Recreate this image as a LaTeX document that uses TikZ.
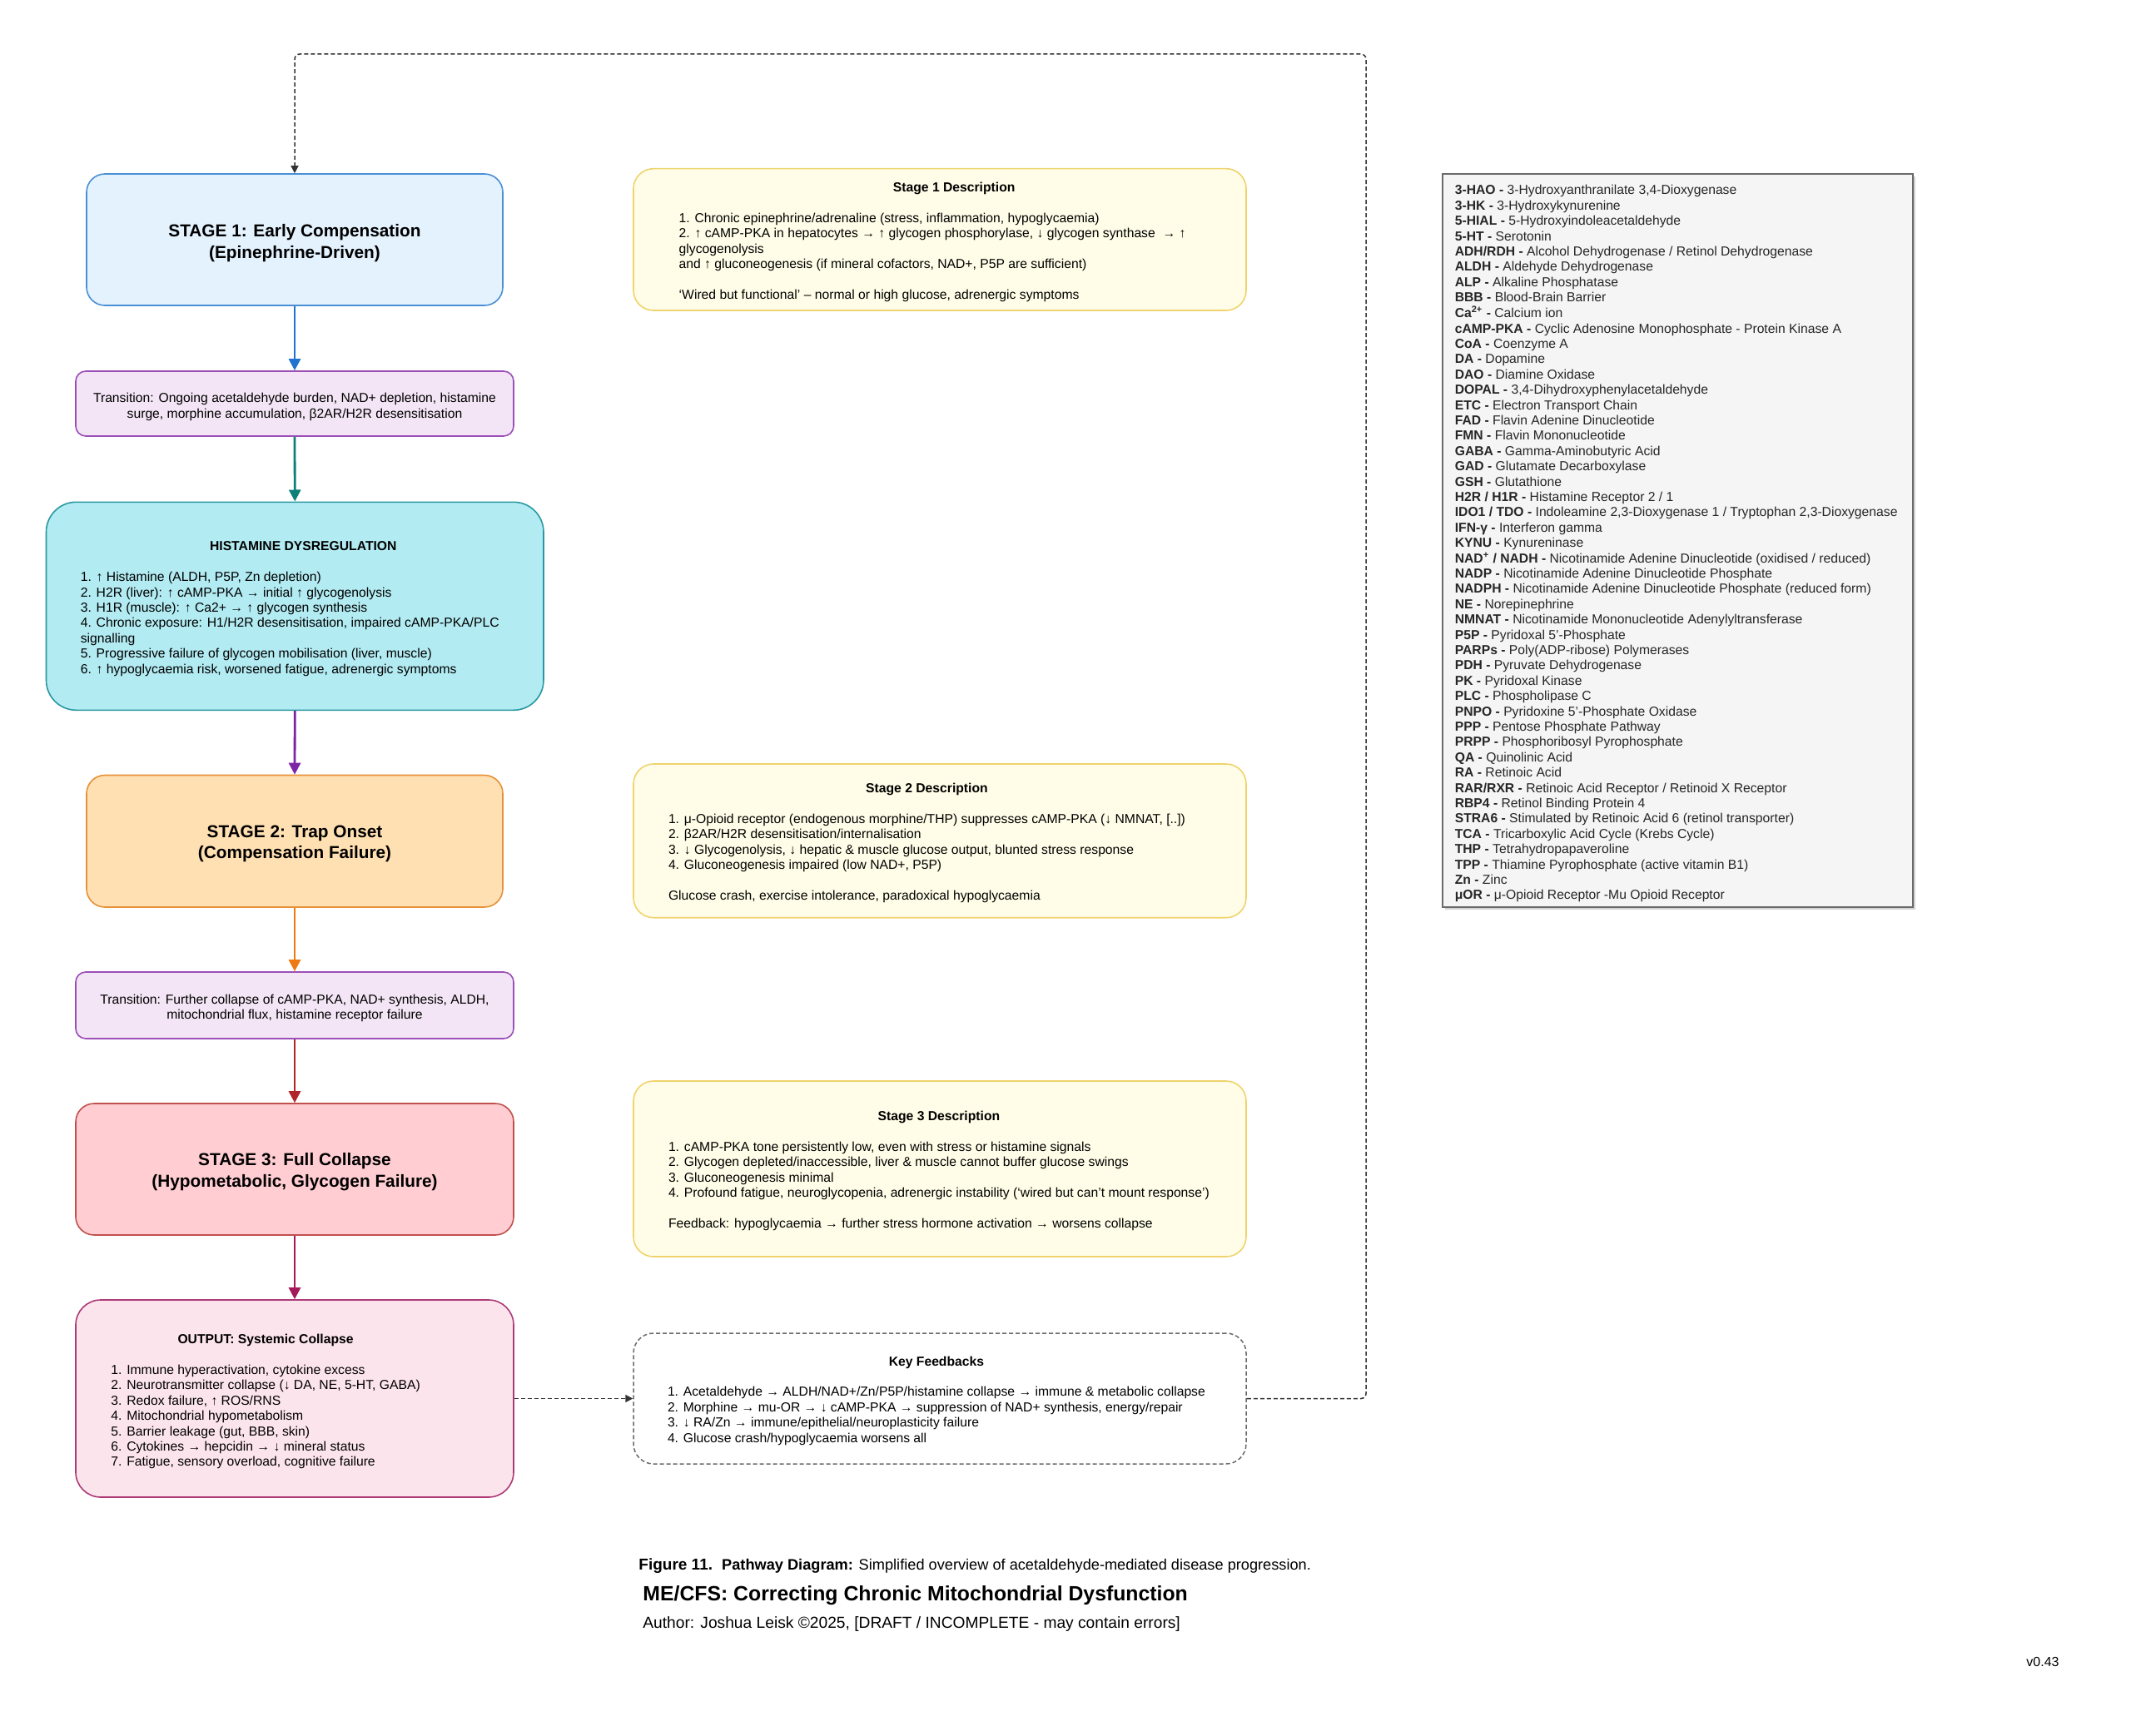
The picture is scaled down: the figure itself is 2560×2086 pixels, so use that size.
\documentclass[tikz,border=0pt]{standalone}
\usepackage{fontspec}
\setmainfont{Liberation Sans}
\usetikzlibrary{arrows.meta,shadows}
\definecolor{sonefill}{HTML}{E3F2FD}
\definecolor{soneline}{HTML}{4A8FD6}
\definecolor{arrblue}{HTML}{1F74CF}
\definecolor{trfill}{HTML}{F3E5F5}
\definecolor{trline}{HTML}{9B4FB8}
\definecolor{histfill}{HTML}{B2EBF2}
\definecolor{histline}{HTML}{2A98A3}
\definecolor{arrteal}{HTML}{0E8079}
\definecolor{arrpurple}{HTML}{7B24A6}
\definecolor{stwofill}{HTML}{FFE0B2}
\definecolor{stwoline}{HTML}{E69138}
\definecolor{arrorange}{HTML}{EF7A12}
\definecolor{arrred}{HTML}{B0262A}
\definecolor{sthreefill}{HTML}{FFCDD2}
\definecolor{sthreeline}{HTML}{C0504D}
\definecolor{arrmagenta}{HTML}{A3195B}
\definecolor{outfill}{HTML}{FCE4EC}
\definecolor{outline}{HTML}{AD3A78}
\definecolor{descfill}{HTML}{FFFDE7}
\definecolor{descline}{HTML}{F0D36C}
\definecolor{glfill}{HTML}{F5F5F5}
\definecolor{glline}{HTML}{6A6A6A}
\definecolor{loopcol}{HTML}{333333}
\newcommand{\bodyfont}{\fontsize{7.85}{9.2}\selectfont}
\begin{document}
\begin{tikzpicture}[x=0.5pt,y=-0.5pt,
  shapebox/.style={line width=0.8pt, inner sep=0pt},
  stagebox/.style={shapebox, rounded corners=11pt},
  transbox/.style={shapebox, rounded corners=6pt, fill=trfill, draw=trline},
  descbox/.style={shapebox, rounded corners=12pt, fill=descfill, draw=descline},
  txt/.style={inner sep=0pt, font=\bodyfont, align=left, yshift=-1.5pt},
  ctxt/.style={inner sep=0pt, font=\bodyfont, align=center, yshift=-1.5pt},
  titletxt/.style={inner sep=0pt, font=\fontsize{10.4}{12.85}\selectfont\bfseries, align=center, yshift=-1.5pt},
  captxt/.style={inner sep=0pt, anchor=west, yshift=-1pt},
  flow/.style={line width=1.4pt, -{Triangle[length=7pt,width=7pt]}},
  loopline/.style={line width=0.75pt, draw=loopcol, dash pattern=on 2.5pt off 1.5pt, rounded corners=3pt, -{Triangle[length=4.5pt,width=4.5pt]}}
]
\useasboundingbox (0,0) rectangle (2560,2086);
\fill[white] (0,0) rectangle (2560,2086);

% ---------- left column boxes ----------
\node[stagebox, fill=sonefill, draw=soneline, minimum width=250pt, minimum height=79pt] (s1) at (354,288) {};
\node[transbox, minimum width=263pt, minimum height=39pt] (t1) at (354,485) {};
\node[shapebox, rounded corners=18pt, fill=histfill, draw=histline, minimum width=298.75pt, minimum height=125pt] (hist) at (354.25,728.3) {};
\node[stagebox, fill=stwofill, draw=stwoline, minimum width=250pt, minimum height=79.25pt] (s2) at (354,1010.75) {};
\node[transbox, minimum width=263pt, minimum height=40pt] (t2) at (354,1208) {};
\node[stagebox, fill=sthreefill, draw=sthreeline, minimum width=263pt, minimum height=79pt] (s3) at (354,1405) {};
\node[shapebox, rounded corners=15pt, fill=outfill, draw=outline, minimum width=263pt, minimum height=118.5pt] (out) at (354,1680.5) {};

% ---------- right column boxes ----------
\node[descbox, minimum width=368pt, minimum height=85.15pt] (d1) at (1129,287.85) {};
\node[descbox, minimum width=368pt, minimum height=92.35pt] (d2) at (1129,1010.35) {};
\node[descbox, minimum width=368pt, minimum height=105.5pt] (d3) at (1129,1404.5) {};
\node[shapebox, rounded corners=12pt, fill=white, draw=glline, line width=0.75pt, dash pattern=on 2.5pt off 1.5pt, minimum width=368pt, minimum height=78.5pt] (kf) at (1129,1680.5) {};

% ---------- glossary ----------
\node[shapebox, fill=glfill, draw=glline, line width=0.9pt, minimum width=282.5pt, minimum height=440.35pt,
  drop shadow={shadow xshift=1.5pt, shadow yshift=-1.5pt, opacity=0.35}] (gl) at (2015.5,649.65) {};

% ---------- texts ----------
\node[titletxt] (s1txt) at (354,289) {STAGE 1: Early Compensation\\(Epinephrine-Driven)};
\node[ctxt] (t1txt) at (354,486) {Transition: Ongoing acetaldehyde burden, NAD+ depletion, histamine\\surge, morphine accumulation, β2AR/H2R desensitisation};
\node[txt, anchor=west] (histtxt) at (96.4,728.7) {\begin{minipage}{267.5pt}\bodyfont\centering\textbf{HISTAMINE DYSREGULATION}\par\vspace{9.2pt}\raggedright
1. ↑ Histamine (ALDH, P5P, Zn depletion)\\
2. H2R (liver): ↑ cAMP-PKA → initial ↑ glycogenolysis\\
3. H1R (muscle): ↑ Ca2+ → ↑ glycogen synthesis\\
4. Chronic exposure: H1/H2R desensitisation, impaired cAMP-PKA/PLC\\
signalling\\
5. Progressive failure of glycogen mobilisation (liver, muscle)\\
6. ↑ hypoglycaemia risk, worsened fatigue, adrenergic symptoms\par\end{minipage}};
\node[titletxt] (s2txt) at (354,1011) {STAGE 2: Trap Onset\\(Compensation Failure)};
\node[ctxt] (t2txt) at (354,1208.5) {Transition: Further collapse of cAMP-PKA, NAD+ synthesis, ALDH,\\mitochondrial flux, histamine receptor failure};
\node[titletxt] (s3txt) at (354,1405) {STAGE 3: Full Collapse\\(Hypometabolic, Glycogen Failure)};
\node[txt, anchor=west] (outtxt) at (133,1681.7) {\begin{tabular}{@{}l@{}}
\multicolumn{1}{@{}c@{}}{\bfseries OUTPUT: Systemic Collapse}\\
\\
1. Immune hyperactivation, cytokine excess\\
2. Neurotransmitter collapse (↓ DA, NE, 5-HT, GABA)\\
3. Redox failure, ↑ ROS/RNS\\
4. Mitochondrial hypometabolism\\
5. Barrier leakage (gut, BBB, skin)\\
6. Cytokines → hepcidin → ↓ mineral status\\
7. Fatigue, sensory overload, cognitive failure
\end{tabular}};

\node[txt, anchor=west] (d1txt) at (815.3,288) {\begin{minipage}{330.5pt}\bodyfont\centering\textbf{Stage 1 Description}\par\vspace{9.2pt}\raggedright
1. Chronic epinephrine/adrenaline (stress, inflammation, hypoglycaemia)\\
2. ↑ cAMP-PKA in hepatocytes → ↑ glycogen phosphorylase, ↓ glycogen synthase ~→ ↑\\
glycogenolysis\\
and ↑ gluconeogenesis (if mineral cofactors, NAD+, P5P are sufficient)\\[9.2pt]
‘Wired but functional’ – normal or high glucose, adrenergic symptoms\par\end{minipage}};
\node[txt, anchor=west] (d2txt) at (802.6,1010.4) {\begin{tabular}{@{}l@{}}
\multicolumn{1}{@{}c@{}}{\bfseries Stage 2 Description}\\
\\
1. μ-Opioid receptor (endogenous morphine/THP) suppresses cAMP-PKA (↓ NMNAT, [..])\\
2. β2AR/H2R desensitisation/internalisation\\
3. ↓ Glycogenolysis, ↓ hepatic \& muscle glucose output, blunted stress response\\
4. Gluconeogenesis impaired (low NAD+, P5P)\\
\\
Glucose crash, exercise intolerance, paradoxical hypoglycaemia
\end{tabular}};
\node[txt, anchor=west] (d3txt) at (802.6,1404.5) {\begin{tabular}{@{}l@{}}
\multicolumn{1}{@{}c@{}}{\bfseries Stage 3 Description}\\
\\
1. cAMP-PKA tone persistently low, even with stress or histamine signals\\
2. Glycogen depleted/inaccessible, liver \& muscle cannot buffer glucose swings\\
3. Gluconeogenesis minimal\\
4. Profound fatigue, neuroglycopenia, adrenergic instability (‘wired but can’t mount response’)\\
\\
Feedback: hypoglycaemia → further stress hormone activation → worsens collapse
\end{tabular}};
\node[txt, anchor=west] (kftxt) at (801.6,1680.5) {\begin{tabular}{@{}l@{}}
\multicolumn{1}{@{}c@{}}{\bfseries Key Feedbacks}\\
\\
1. Acetaldehyde → ALDH/NAD+/Zn/P5P/histamine collapse → immune \& metabolic collapse\\
2. Morphine → mu-OR → ↓ cAMP-PKA → suppression of NAD+ synthesis, energy/repair\\
3. ↓ RA/Zn → immune/epithelial/neuroplasticity failure\\
4. Glucose crash/hypoglycaemia worsens all
\end{tabular}};

\node[txt, anchor=west, text=black!85, yshift=-0.5pt] (gltxt) at (1747.4,649.7) {\begin{tabular}{@{}l@{}}
\textbf{3-HAO -} 3-Hydroxyanthranilate 3,4-Dioxygenase\\
\textbf{3-HK -} 3-Hydroxykynurenine\\
\textbf{5-HIAL -} 5-Hydroxyindoleacetaldehyde\\
\textbf{5-HT -} Serotonin\\
\textbf{ADH/RDH -} Alcohol Dehydrogenase / Retinol Dehydrogenase\\
\textbf{ALDH -} Aldehyde Dehydrogenase\\
\textbf{ALP -} Alkaline Phosphatase\\
\textbf{BBB -} Blood-Brain Barrier\\
\textbf{Ca\textsuperscript{2+} -} Calcium ion\\
\textbf{cAMP-PKA -} Cyclic Adenosine Monophosphate - Protein Kinase A\\
\textbf{CoA -} Coenzyme A\\
\textbf{DA -} Dopamine\\
\textbf{DAO -} Diamine Oxidase\\
\textbf{DOPAL -} 3,4-Dihydroxyphenylacetaldehyde\\
\textbf{ETC -} Electron Transport Chain\\
\textbf{FAD -} Flavin Adenine Dinucleotide\\
\textbf{FMN -} Flavin Mononucleotide\\
\textbf{GABA -} Gamma-Aminobutyric Acid\\
\textbf{GAD -} Glutamate Decarboxylase\\
\textbf{GSH -} Glutathione\\
\textbf{H2R / H1R -} Histamine Receptor 2 / 1\\
\textbf{IDO1 / TDO -} Indoleamine 2,3-Dioxygenase 1 / Tryptophan 2,3-Dioxygenase\\
\textbf{IFN-γ -} Interferon gamma\\
\textbf{KYNU -} Kynureninase\\
\textbf{NAD\textsuperscript{+} / NADH -} Nicotinamide Adenine Dinucleotide (oxidised / reduced)\\
\textbf{NADP -} Nicotinamide Adenine Dinucleotide Phosphate\\
\textbf{NADPH -} Nicotinamide Adenine Dinucleotide Phosphate (reduced form)\\
\textbf{NE -} Norepinephrine\\
\textbf{NMNAT -} Nicotinamide Mononucleotide Adenylyltransferase\\
\textbf{P5P -} Pyridoxal 5'-Phosphate\\
\textbf{PARPs -} Poly(ADP-ribose) Polymerases\\
\textbf{PDH -} Pyruvate Dehydrogenase\\
\textbf{PK -} Pyridoxal Kinase\\
\textbf{PLC -} Phospholipase C\\
\textbf{PNPO -} Pyridoxine 5'-Phosphate Oxidase\\
\textbf{PPP -} Pentose Phosphate Pathway\\
\textbf{PRPP -} Phosphoribosyl Pyrophosphate\\
\textbf{QA -} Quinolinic Acid\\
\textbf{RA -} Retinoic Acid\\
\textbf{RAR/RXR -} Retinoic Acid Receptor / Retinoid X Receptor\\
\textbf{RBP4 -} Retinol Binding Protein 4\\
\textbf{STRA6 -} Stimulated by Retinoic Acid 6 (retinol transporter)\\
\textbf{TCA -} Tricarboxylic Acid Cycle (Krebs Cycle)\\
\textbf{THP -} Tetrahydropapaveroline\\
\textbf{TPP -} Thiamine Pyrophosphate (active vitamin B1)\\
\textbf{Zn -} Zinc\\
\textbf{μOR -} μ-Opioid Receptor -Mu Opioid Receptor
\end{tabular}};

% ---------- captions ----------
\node[captxt] (cap) at (767,1880) {{\fontsize{9.5}{11}\selectfont\bfseries Figure 11.}\ \ {\fontsize{9.1}{11}\selectfont\textbf{Pathway Diagram:} Simplified overview of acetaldehyde-mediated disease progression.}};
\node[captxt, font=\fontsize{12.4}{14}\selectfont\bfseries] (title) at (772,1915) {ME/CFS: Correcting Chronic Mitochondrial Dysfunction};
\node[captxt, font=\fontsize{9.6}{11}\selectfont] (author) at (772,1950) {Author: Joshua Leisk ©2025, [DRAFT / INCOMPLETE - may contain errors]};
\node[inner sep=0pt, font=\fontsize{8}{10}\selectfont] (ver) at (2454,1997) {v0.43};

% ---------- connectors ----------
\draw[flow, draw=arrblue, fill=arrblue] (s1.south) -- (t1.north);
\draw[flow, draw=arrteal, fill=arrteal] (t1.south) -- (hist.north);
\draw[flow, draw=arrpurple, fill=arrpurple] (hist.south) -- (s2.north);
\draw[flow, draw=arrorange, fill=arrorange] (s2.south) -- (t2.north);
\draw[flow, draw=arrred, fill=arrred] (t2.south) -- (s3.north);
\draw[flow, draw=arrmagenta, fill=arrmagenta] (s3.south) -- (out.north);

\coordinate (lr) at (1641,1680.5);
\coordinate (ur) at (1641,65);
\coordinate (ul) at (354,65);
\draw[loopline] (out.east) -- (kf.west);
\draw[loopline] (kf.east) -- (lr) -- (ur) -- (ul) -- (s1.north);
\end{tikzpicture}
\end{document}
